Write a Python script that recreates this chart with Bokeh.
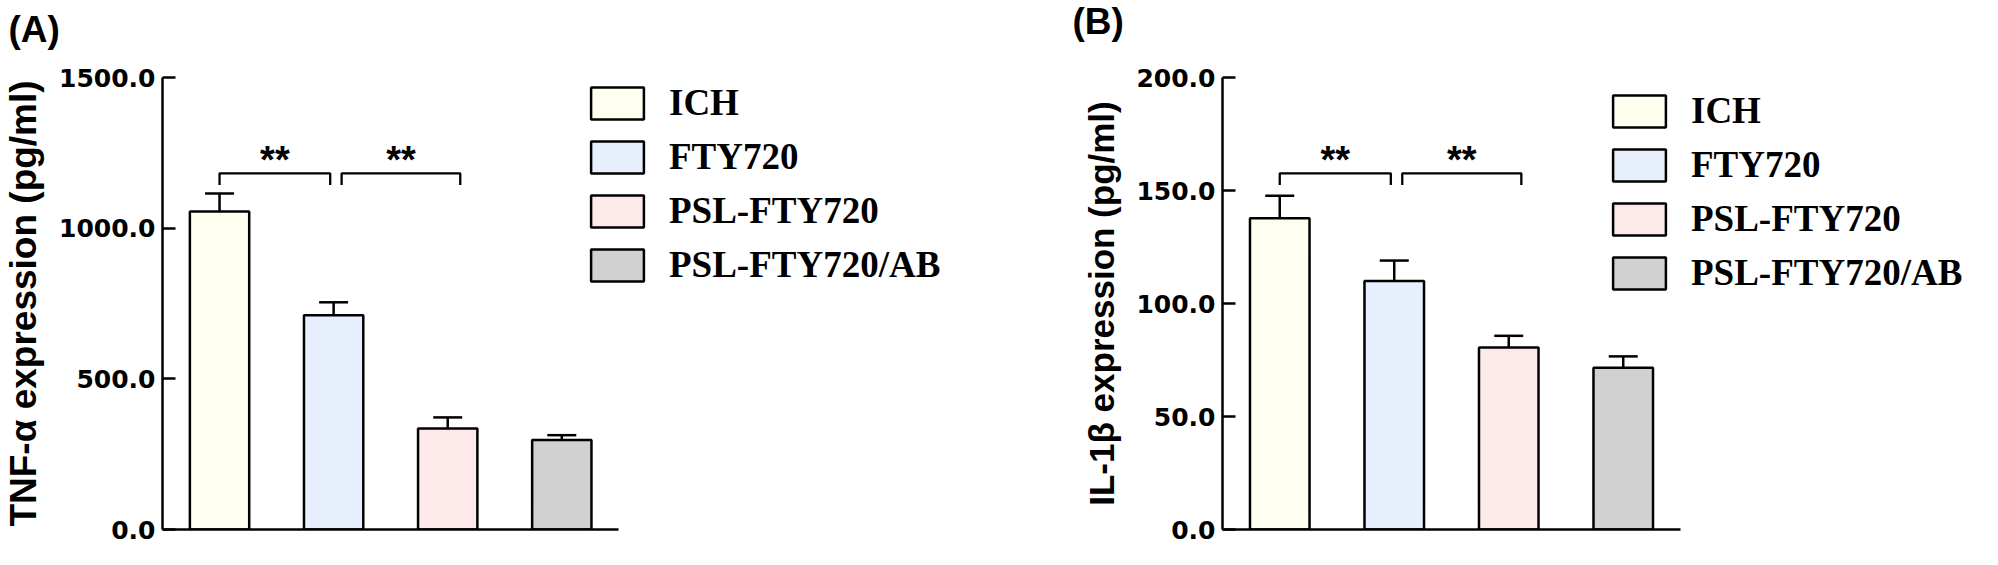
from bokeh.plotting import figure
from bokeh.models import (ColumnDataSource, Range1d, FixedTicker, PrintfTickFormatter,
                          Whisker, TeeHead, Legend, LegendItem, Label)
from bokeh.layouts import row
from bokeh.core.properties import value
from bokeh.embed import file_html
from bokeh.resources import INLINE

# ---------------- data ----------------
groups = ["ICH", "FTY720", "PSL-FTY720", "PSL-FTY720/AB"]
colors = ["#FFFFF0", "#E6EFFB", "#FDE9EA", "#D1D1D1"]

tnf_mean = [1055, 711, 335, 297]
tnf_err = [60, 43, 37, 16]
tnf_ticks = [0, 500, 1000, 1500]

il1b_mean = [137.7, 110.0, 80.5, 71.6]
il1b_err = [10.0, 9.0, 5.2, 5.0]
il1b_ticks = [0, 50, 100, 150, 200]

# significance brackets: (from group index, to group index)
sig_pairs = [(0, 1), (1, 2)]
sig_text = ["**", "**"]
tnf_bracket_y = 1182
il1b_bracket_y = 157.6

SANS = "Liberation Sans"
TICKF = "DejaVu Sans"
SERIF = "Liberation Serif"

ITEM_H = 40
LEG_SPACING = 11
PX_PER_GROUP = 114.5


def make_panel(letter, letter_dx, means, errs, ticks, ylabel, ylabel_size, bracket_y,
               width, height, bl, bt, bb, legend_left, legend_bottom):
    ymax = ticks[-1]
    br = 2
    frame_w = width - bl - br
    x_end = -0.5 + frame_w / PX_PER_GROUP
    p = figure(width=width, height=height, output_backend="svg", toolbar_location=None,
               x_range=Range1d(-0.5, x_end), y_range=Range1d(0, ymax),
               min_border_left=bl, min_border_right=br, min_border_top=bt,
               min_border_bottom=bb)
    p.outline_line_color = None
    p.grid.visible = False
    p.background_fill_color = "white"

    xs = list(range(len(groups)))
    src = ColumnDataSource(dict(x=xs, value=means, upper=[m + e for m, e in zip(means, errs)],
                                color=colors, name=groups))
    bars = p.vbar(x="x", top="value", width=0.52, fill_color="color", line_color="black",
                  line_width=2.5, source=src)

    wh = Whisker(source=src, base="x", lower="value", upper="upper", dimension="height",
                 line_width=2.5, line_color="black",
                 upper_head=TeeHead(size=29, line_width=2.5, line_color="black"),
                 lower_head=None, level="overlay")
    p.add_layout(wh)

    # brackets
    drop = ymax * 0.026
    bxs, bys = [], []
    for i, j in sig_pairs:
        x0 = i + (0.0 if i == 0 else 0.07)
        x1 = j - 0.03 if j == 1 else j + 0.11
        bxs.append([x0, x0, x1, x1])
        bys.append([bracket_y - drop, bracket_y, bracket_y, bracket_y - drop])
    p.multi_line(xs=bxs, ys=bys, line_color="black", line_width=2.3)
    star_x = [(bx[0] + bx[-1]) / 2 for bx in bxs]
    star_y = [bracket_y + ymax * 0.03] * len(sig_pairs)
    p.text(x=star_x, y=star_y, text=sig_text, text_align="center", text_baseline="middle",
           text_font=value(SANS), text_font_style="bold", text_font_size="38px",
           text_color="black")

    # axes
    xa = p.xaxis[0]
    xa.ticker = FixedTicker(ticks=[])
    xa.bounds = (-0.5, len(groups) - 0.5)
    xa.axis_line_width = 2.5
    xa.major_tick_line_color = None
    xa.minor_tick_line_color = None

    ya = p.yaxis[0]
    ya.ticker = FixedTicker(ticks=ticks)
    ya.formatter = PrintfTickFormatter(format="%.1f")
    ya.axis_line_width = 2.5
    ya.major_tick_line_width = 2.5
    ya.major_tick_in = 13
    ya.major_tick_out = 0
    ya.minor_tick_line_color = None
    ya.major_label_standoff = 7
    ya.major_label_text_font = TICKF
    ya.major_label_text_font_style = "bold"
    ya.major_label_text_font_size = "25px"
    ya.major_label_text_color = "black"
    ya.axis_label = ylabel
    ya.axis_label_text_font = SANS
    ya.axis_label_text_font_style = "bold"
    ya.axis_label_text_font_size = ylabel_size
    ya.axis_label_text_color = "black"
    ya.axis_label_standoff = 12

    # legend (location = bottom-left of the legend box, measured from frame bottom-left)
    items = [LegendItem(label=g, renderers=[bars], index=k) for k, g in enumerate(groups)]
    leg = Legend(items=items, location=(legend_left, legend_bottom),
                 glyph_width=66, glyph_height=ITEM_H, label_height=ITEM_H,
                 label_standoff=19, spacing=LEG_SPACING, padding=0, margin=0,
                 border_line_color=None, background_fill_alpha=0,
                 label_text_font=SERIF, label_text_font_style="bold",
                 label_text_font_size="37px", label_text_color="black")
    p.add_layout(leg)

    # panel letter, placed in the area above the frame (top of text box at canvas top)
    p.add_layout(Label(x=letter_dx, y=bt, x_units="screen", y_units="screen",
                       text=letter, text_baseline="top", text_font=SANS,
                       text_font_style="bold", text_font_size="37px", text_color="black"),
                 "above")
    return p


pA = make_panel("(A)", -154, tnf_mean, tnf_err, tnf_ticks,
                "TNF-α expression (pg/ml)", "37px", tnf_bracket_y,
                992, 549, 159, 69, 20, 422, 243)
pB = make_panel("(B)", -150, il1b_mean, il1b_err, il1b_ticks,
                "IL-1β expression (pg/ml)", "35px", il1b_bracket_y,
                990, 549, 230, 77, 10, 384, 235)

layout = row(pA, pB)
open("out.html", "w").write(file_html(layout, INLINE))
